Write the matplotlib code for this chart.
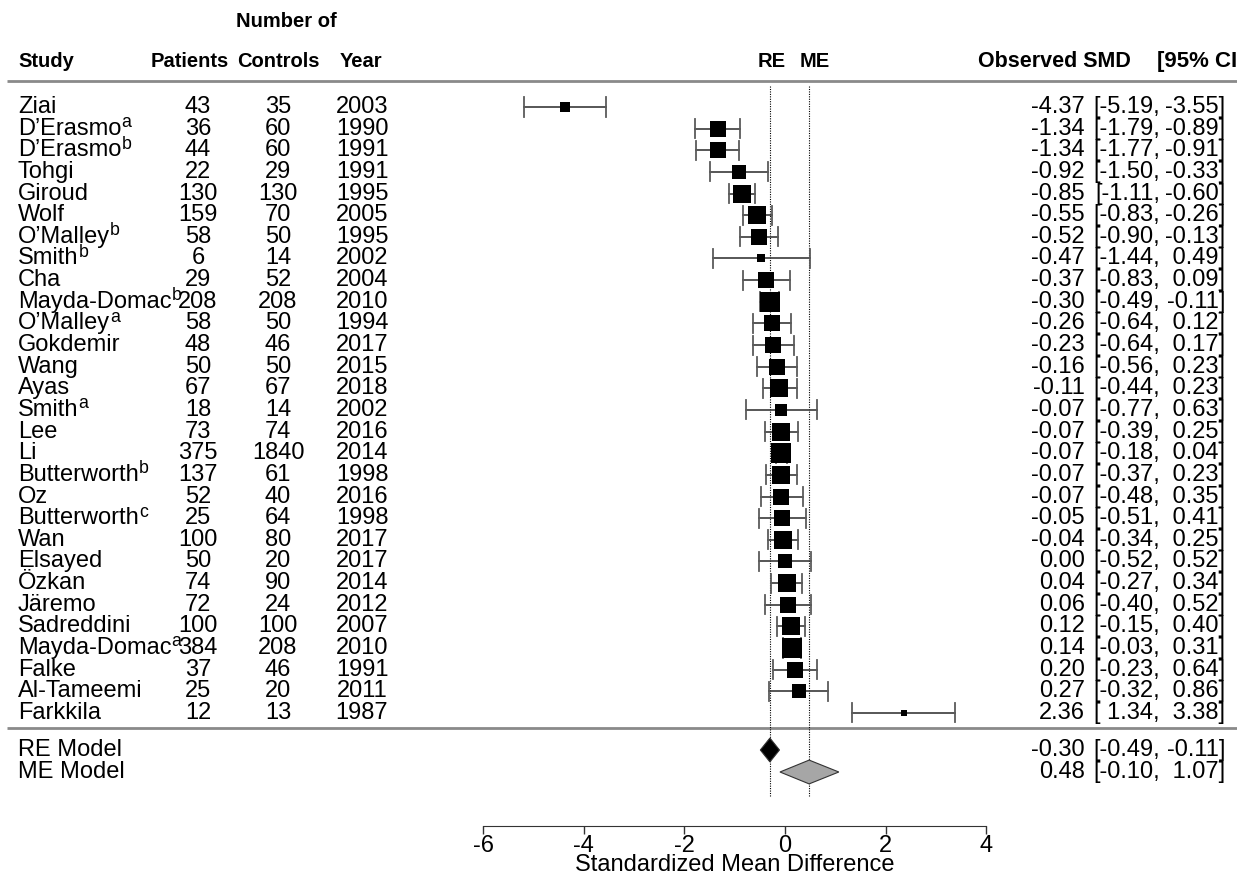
#!/usr/bin/env python3
"""Forest plot of standardized mean differences (patients vs controls)."""

import numpy as np
import matplotlib

matplotlib.use("Agg")
import matplotlib.pyplot as plt  # noqa: E402
from matplotlib.patches import Polygon  # noqa: E402

plt.rcParams["font.family"] = ["Liberation Sans", "DejaVu Sans"]
plt.rcParams["axes.unicode_minus"] = False

# ---- data ---------------------------------------------------------------
studies = [
    "Ziai", "D’Erasmo", "D’Erasmo", "Tohgi", "Giroud", "Wolf", "O’Malley",
    "Smith", "Cha", "Mayda-Domac", "O’Malley", "Gokdemir", "Wang", "Ayas",
    "Smith", "Lee", "Li", "Butterworth", "Oz", "Butterworth", "Wan",
    "Elsayed", "Özkan", "Järemo", "Sadreddini", "Mayda-Domac", "Falke",
    "Al-Tameemi", "Farkkila",
]
study_marks = ["", "a", "b", "", "", "", "b", "b", "", "b", "a", "", "", "",
               "a", "", "", "b", "", "c", "", "", "", "", "", "a", "", "", ""]
patients = [43, 36, 44, 22, 130, 159, 58, 6, 29, 208, 58, 48, 50, 67, 18,
            73, 375, 137, 52, 25, 100, 50, 74, 72, 100, 384, 37, 25, 12]
controls = [35, 60, 60, 29, 130, 70, 50, 14, 52, 208, 50, 46, 50, 67, 14,
            74, 1840, 61, 40, 64, 80, 20, 90, 24, 100, 208, 46, 20, 13]
years = [2003, 1990, 1991, 1991, 1995, 2005, 1995, 2002, 2004, 2010, 1994,
         2017, 2015, 2018, 2002, 2016, 2014, 1998, 2016, 1998, 2017, 2017,
         2014, 2012, 2007, 2010, 1991, 2011, 1987]
smd = [-4.37, -1.34, -1.34, -0.92, -0.85, -0.55, -0.52, -0.47, -0.37, -0.30,
       -0.26, -0.23, -0.16, -0.11, -0.07, -0.07, -0.07, -0.07, -0.07, -0.05,
       -0.04, 0.00, 0.04, 0.06, 0.12, 0.14, 0.20, 0.27, 2.36]
ci_low = [-5.19, -1.79, -1.77, -1.50, -1.11, -0.83, -0.90, -1.44, -0.83,
          -0.49, -0.64, -0.64, -0.56, -0.44, -0.77, -0.39, -0.18, -0.37,
          -0.48, -0.51, -0.34, -0.52, -0.27, -0.40, -0.15, -0.03, -0.23,
          -0.32, 1.34]
ci_high = [-3.55, -0.89, -0.91, -0.33, -0.60, -0.26, -0.13, 0.49, 0.09,
           -0.11, 0.12, 0.17, 0.23, 0.23, 0.63, 0.25, 0.04, 0.23, 0.35, 0.41,
           0.25, 0.52, 0.34, 0.52, 0.40, 0.31, 0.64, 0.86, 3.38]

models = ["RE Model", "ME Model"]
model_est = [-0.30, 0.48]
model_low = [-0.49, -0.10]
model_high = [-0.11, 1.07]
model_colors = ["black", "#a6a6a6"]

# ---- layout (pixels of the 1237x875 canvas) -----------------------------
W, H = 1237, 875
X0_PX, PX_PER_UNIT = 785, 50.3      # SMD = 0 position, px per SMD unit
ROW0_PX, ROW_PX = 107, 21.64        # first study row, row spacing
FS, FS_HEAD = 17, 14.5
TAU2 = 0.2                          # between-study variance for box weights


def fx(px):
    return px / W


def row_y(px):
    return -(px - ROW0_PX) / ROW_PX


fig = plt.figure(figsize=(W / 100, H / 100), dpi=100)
ax = fig.add_axes([0, 0, 1, 1])
ax.set_xlim(-X0_PX / PX_PER_UNIT, (W - X0_PX) / PX_PER_UNIT)
ax.set_ylim(row_y(H), row_y(0))
tr = ax.get_yaxis_transform()   # x in axes fraction, y in data
renderer = fig.canvas.get_renderer()

k = len(studies)
ys = -np.arange(k)


def label(xpx, y, s, ha="left", bold=False, size=None):
    return ax.text(fx(xpx), y, s, transform=tr, ha=ha, va="center",
                   fontsize=size or (FS_HEAD if bold else FS),
                   fontweight="bold" if bold else "normal")


# header
label(286, row_y(22), "Number of", ha="center", bold=True)
head_y = row_y(62)
label(18, head_y, "Study", bold=True)
label(190, head_y, "Patients", ha="center", bold=True)
label(278, head_y, "Controls", ha="center", bold=True)
label(340, head_y, "Year", bold=True)
label(772, head_y, "RE", ha="center", bold=True)
label(815, head_y, "ME", ha="center", bold=True)
label(978, head_y, "Observed SMD", bold=True, size=15.5)
label(1157, head_y, "[95% CI]", bold=True, size=16)

for ypx in (81, 728):
    ax.plot([fx(7), 1], [row_y(ypx)] * 2, transform=tr, color="#8a8a8a",
            lw=2, solid_capstyle="butt")

# reference lines at the pooled estimates
for est in model_est:
    ax.plot([est, est], [row_y(86), row_y(797)], color="black", lw=0.8,
            ls=(0, (1.0, 1.2)))


def ci_text(y, est, lo, hi):
    label(1085, y, f"{est:.2f}", ha="right")
    label(1160, y, f"[{lo:5.2f},", ha="right")
    label(1225, y, f"{hi:5.2f}]", ha="right")


# study rows
se = (np.array(ci_high) - np.array(ci_low)) / (2 * 1.96)
w = 1 / (se ** 2 + TAU2)
psize = 0.5 + (w - w.min()) / (w.max() - w.min())
cap = 0.44
for i in range(k):
    y = ys[i]
    ax.plot([ci_low[i], ci_high[i]], [y, y], color="#3a3a3a", lw=1.2)
    for xe in (ci_low[i], ci_high[i]):
        ax.plot([xe, xe], [y - cap, y + cap], color="#5a5a5a", lw=1.3)
    ax.plot(smd[i], y, marker="s", color="black", ms=psize[i] * 9.8, mew=0)

    t = label(18, y, studies[i])
    if study_marks[i]:
        x_end = t.get_window_extent(renderer).x1
        label(x_end, y + 0.28, study_marks[i], size=FS * 0.75)
    label(198, y, str(patients[i]), ha="center")
    label(278, y, str(controls[i]), ha="center")
    label(362, y, str(years[i]), ha="center")
    ci_text(y, smd[i], ci_low[i], ci_high[i])

# summary rows
for j, name in enumerate(models):
    y = row_y(750 + 22 * j)
    h = 0.55
    ax.add_patch(Polygon([[model_low[j], y], [model_est[j], y + h],
                          [model_high[j], y], [model_est[j], y - h]],
                         closed=True, facecolor=model_colors[j],
                         edgecolor="#333333", lw=0.8, zorder=3))
    label(18, y, name)
    ci_text(y, model_est[j], model_low[j], model_high[j])

# x axis
for side in ("left", "right", "top"):
    ax.spines[side].set_visible(False)
ax.spines["bottom"].set_position(("data", row_y(826)))
ax.spines["bottom"].set_bounds(-6, 4)
ax.spines["bottom"].set_color("#333333")
ax.set_xticks(range(-6, 5, 2))
ax.tick_params(axis="x", direction="out", length=6, width=1, pad=0.5,
               labelsize=FS, color="#333333")
ax.set_yticks([])
ax.text(-1, row_y(865), "Standardized Mean Difference", ha="center",
        va="center", fontsize=FS)

fig.savefig("out.png", dpi=100)
